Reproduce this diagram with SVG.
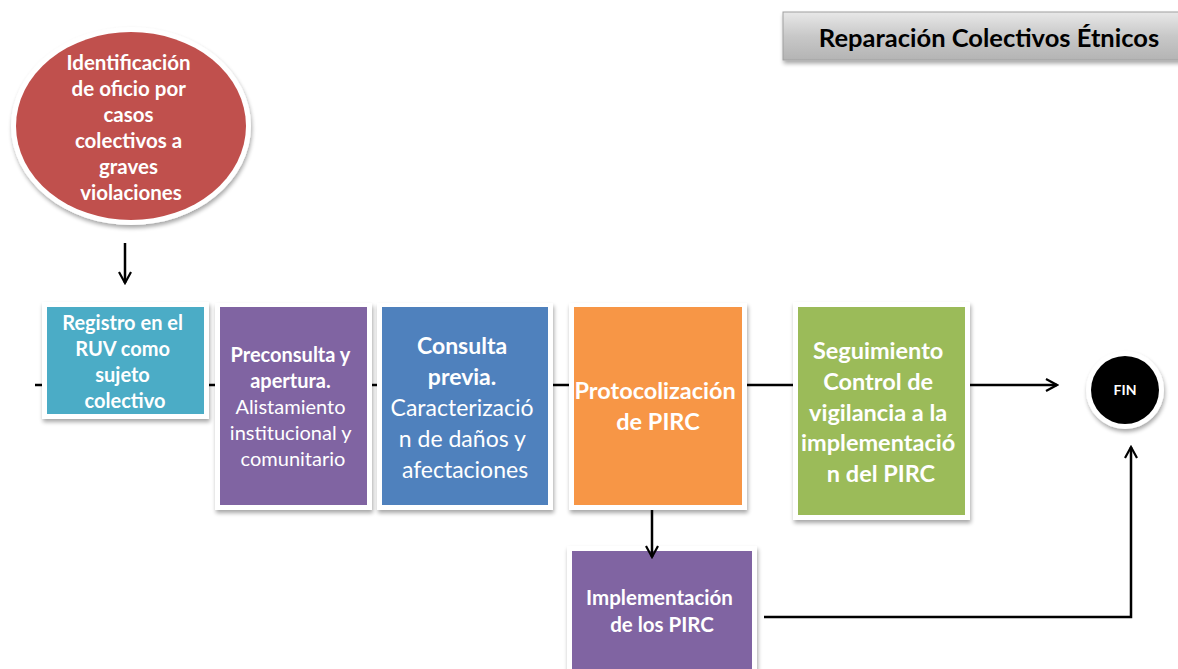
<svg xmlns="http://www.w3.org/2000/svg" width="1178" height="669" viewBox="0 0 1178 669">
<defs>
<style>
.t{font-family:Lato,"Open Sans","Liberation Sans",sans-serif;fill:#fff;text-anchor:middle}
.b{font-weight:bold}
.ln{stroke:#000;stroke-width:2.5;fill:none}
.frame{fill:#fff;filter:url(#sh)}
</style>
<filter id="sh" x="-10%" y="-10%" width="125%" height="125%">
<feGaussianBlur in="SourceAlpha" stdDeviation="2"/>
<feOffset dx="1" dy="3" result="o"/>
<feComponentTransfer><feFuncA type="linear" slope="0.35"/></feComponentTransfer>
<feMerge><feMergeNode/><feMergeNode in="SourceGraphic"/></feMerge>
</filter>
<linearGradient id="gt" x1="0" y1="0" x2="0" y2="1">
<stop offset="0" stop-color="#e8e8e8"/>
<stop offset="0.5" stop-color="#c8c8c8"/>
<stop offset="1" stop-color="#b4b4b4"/>
</linearGradient>
<marker id="ah" viewBox="0 0 14 14" refX="12" refY="7" markerWidth="14" markerHeight="14" markerUnits="userSpaceOnUse" orient="auto">
<path d="M1,1 L12,7 L1,13" fill="none" stroke="#000" stroke-width="2.2"/>
</marker>
</defs>

<g id="title">
<rect x="783" y="12" width="400" height="48" fill="url(#gt)" stroke="#a0a0a0" stroke-width="1" filter="url(#sh)"/>
<text class="b" x="989" y="47" font-family="Lato,'Open Sans','Liberation Sans',sans-serif" font-size="25.5" text-anchor="middle" fill="#000">Reparación Colectivos Étnicos</text>
</g>

<g id="n-identificacion">
<ellipse cx="131" cy="126" rx="120" ry="99" class="frame"/>
<ellipse cx="131" cy="126" rx="115" ry="94" fill="#C0504D"/>
<text class="t b" font-size="20.5">
<tspan x="131" y="70">Identificación</tspan>
<tspan x="131" y="96">de oficio por</tspan>
<tspan x="131" y="122">casos</tspan>
<tspan x="131" y="148">colectivos a</tspan>
<tspan x="131" y="174">graves</tspan>
<tspan x="131" y="200">violaciones</tspan>
</text>
</g>

<g id="n-registro">
<rect x="42" y="302" width="167" height="117" class="frame"/>
<rect x="47" y="307" width="157" height="107" fill="#4BACC6"/>
<text class="t b" font-size="20">
<tspan x="125" y="330">Registro en el</tspan>
<tspan x="125" y="356">RUV como</tspan>
<tspan x="125" y="382">sujeto</tspan>
<tspan x="125" y="408">colectivo</tspan>
</text>
</g>

<g id="n-preconsulta">
<rect x="215" y="303" width="157" height="207" class="frame"/>
<rect x="220" y="307" width="147" height="198" fill="#8064A2"/>
<text class="t" font-size="20">
<tspan class="b" x="293" y="362">Preconsulta y</tspan>
<tspan class="b" x="293" y="388">apertura.</tspan>
<tspan x="293" y="414">Alistamiento</tspan>
<tspan x="293" y="440">institucional y</tspan>
<tspan x="293" y="466">comunitario</tspan>
</text>
</g>

<g id="n-consulta">
<rect x="377" y="303" width="176" height="207" class="frame"/>
<rect x="382" y="307" width="166" height="198" fill="#4F81BD"/>
<text class="t" font-size="23">
<tspan class="b" x="465" y="354">Consulta</tspan>
<tspan class="b" x="465" y="385">previa.</tspan>
<tspan x="465" y="416">Caracterizació</tspan>
<tspan x="465" y="447">n de daños y</tspan>
<tspan x="465" y="478">afectaciones</tspan>
</text>
</g>

<g id="n-protocolizacion">
<rect x="569" y="303" width="178" height="207" class="frame"/>
<rect x="574" y="307" width="168" height="198" fill="#F79646"/>
<text class="t b" font-size="23.5">
<tspan x="658" y="399">Protocolización</tspan>
<tspan x="658" y="430">de PIRC</tspan>
</text>
</g>

<g id="n-seguimiento">
<rect x="793" y="302" width="177" height="218" class="frame"/>
<rect x="798" y="307" width="167" height="208" fill="#9BBB59"/>
<text class="t b" font-size="23.5">
<tspan x="881" y="359">Seguimiento</tspan>
<tspan x="881" y="390">Control de</tspan>
<tspan x="881" y="421">vigilancia a la</tspan>
<tspan x="881" y="451">implementació</tspan>
<tspan x="881" y="482">n del PIRC</tspan>
</text>
</g>

<g id="n-fin">
<circle cx="1125" cy="390" r="39" class="frame"/>
<circle cx="1125" cy="390" r="34" fill="#000"/>
<text class="t b" x="1125" y="395" font-size="14">FIN</text>
</g>

<g id="n-implementacion">
<rect x="567" y="546" width="190" height="130" class="frame"/>
<rect x="572" y="551" width="180" height="125" fill="#8064A2"/>
<text class="t b" font-size="20.5">
<tspan x="662" y="605">Implementación</tspan>
<tspan x="662" y="632">de los PIRC</tspan>
</text>
</g>

<g id="connectors">
<line class="ln" x1="35" y1="385" x2="42" y2="385"/>
<line class="ln" x1="209" y1="385" x2="215" y2="385"/>
<line class="ln" x1="372" y1="385" x2="377" y2="385"/>
<line class="ln" x1="553" y1="385" x2="569" y2="385"/>
<line class="ln" x1="747" y1="385" x2="793" y2="385"/>
<line class="ln" x1="970" y1="385" x2="1057" y2="385" marker-end="url(#ah)"/>
<line class="ln" x1="125" y1="243" x2="125" y2="283" marker-end="url(#ah)"/>
<line class="ln" x1="652" y1="510" x2="652" y2="557" marker-end="url(#ah)"/>
<polyline class="ln" points="764,617 1131,617 1131,447" marker-end="url(#ah)"/>
</g>
</svg>
